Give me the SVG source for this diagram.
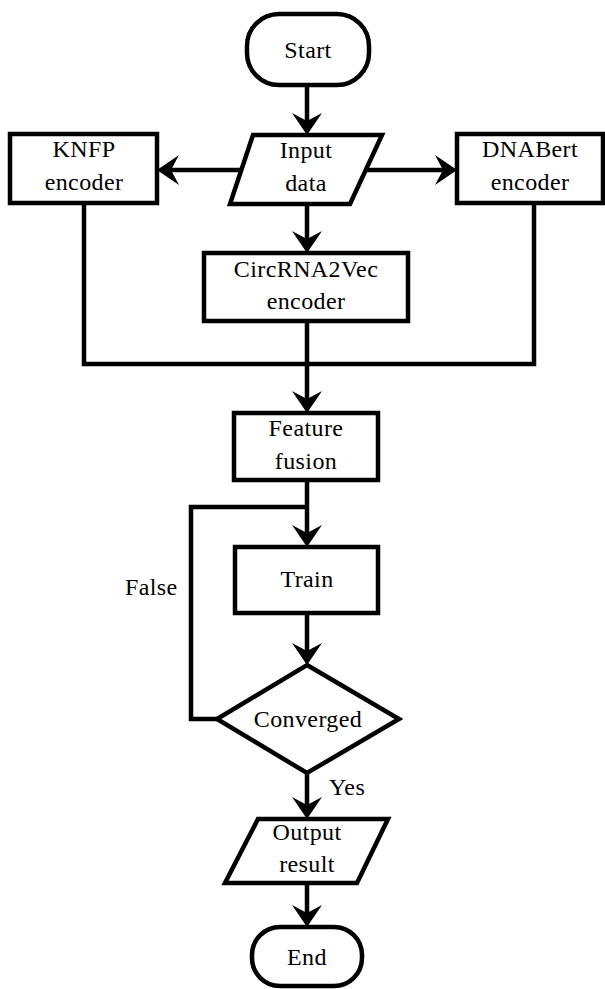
<svg xmlns="http://www.w3.org/2000/svg" width="605" height="989" viewBox="0 0 605 989">
<style>
.s{fill:#fff;stroke:#000;stroke-width:4.5;stroke-linejoin:miter}
.c{fill:none;stroke:#000;stroke-width:4.5}
text{font-family:"Liberation Serif","Times New Roman",serif;font-size:24px;letter-spacing:0.4px;fill:#000;text-anchor:middle}
.l{text-anchor:start}
</style>
<defs>
<marker id="ah" markerUnits="userSpaceOnUse" viewBox="0 -16 24 32" markerWidth="24" markerHeight="32" refX="8" refY="0" orient="auto" overflow="visible">
<path d="M0,-15 L22,0 L0,15 L8,0 Z" fill="#000"/>
</marker>
</defs>
<rect width="605" height="989" fill="#fff"/>
<g id="connectors">
<path class="c" d="M307,85 V121" marker-end="url(#ah)"/>
<path class="c" d="M241,170 H171" marker-end="url(#ah)"/>
<path class="c" d="M366,170 H443" marker-end="url(#ah)"/>
<path class="c" d="M307,204 V239" marker-end="url(#ah)"/>
<path class="c" d="M84,203 V364 H534 V203"/>
<path class="c" d="M307,321 V399" marker-end="url(#ah)"/>
<path class="c" d="M307,480 V533" marker-end="url(#ah)"/>
<path class="c" d="M307,613 V651" marker-end="url(#ah)"/>
<path class="c" d="M217,719 H191 V507 H307"/>
<path class="c" d="M307,773 V805" marker-end="url(#ah)"/>
<path class="c" d="M307,883 V913" marker-end="url(#ah)"/>
<text class="l" x="125" y="595">False</text>
<text class="l" x="329" y="795">Yes</text>
</g>
<g id="start">
<rect class="s" x="247" y="14" width="122" height="71" rx="32" ry="32"/>
<text x="308" y="58">Start</text>
</g>
<g id="input">
<polygon class="s" points="253,135 382,135 350,204 230,204"/>
<text x="306" y="158">Input</text>
<text x="306" y="191">data</text>
</g>
<g id="knfp">
<rect class="s" x="10" y="134" width="147" height="69"/>
<text x="84" y="157">KNFP</text>
<text x="84" y="190">encoder</text>
</g>
<g id="dnabert">
<rect class="s" x="457" y="134" width="146" height="69"/>
<text x="530" y="157">DNABert</text>
<text x="530" y="190">encoder</text>
</g>
<g id="circrna">
<rect class="s" x="204" y="253" width="204" height="68"/>
<text x="306" y="277">CircRNA2Vec</text>
<text x="306" y="309">encoder</text>
</g>
<g id="fusion">
<rect class="s" x="234" y="413" width="144" height="67"/>
<text x="306" y="436">Feature</text>
<text x="306" y="469">fusion</text>
</g>
<g id="train">
<rect class="s" x="235" y="547" width="143" height="66"/>
<text x="307" y="587">Train</text>
</g>
<g id="converged">
<polygon class="s" points="307,665 399,719 307,773 217,719"/>
<text x="308" y="727">Converged</text>
</g>
<g id="output">
<polygon class="s" points="258,819 388,819 357,883 225,883"/>
<text x="307" y="840">Output</text>
<text x="307" y="872">result</text>
</g>
<g id="end">
<rect class="s" x="252" y="927" width="110" height="59" rx="28" ry="28"/>
<text x="307" y="965">End</text>
</g>
</svg>
